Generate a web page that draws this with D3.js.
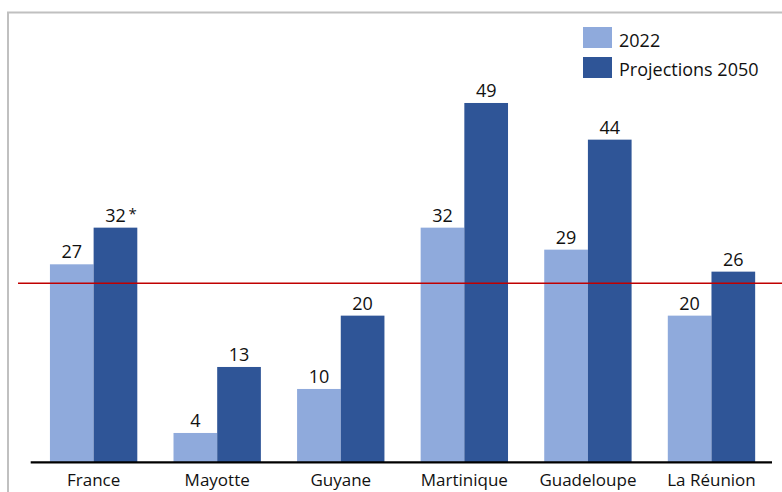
<!DOCTYPE html>
<html><head><meta charset="utf-8">
<script src="https://cdn.jsdelivr.net/npm/d3@7"></script>
<style>body{margin:0;background:#fff}svg{display:block;font-family:"Open Sans",sans-serif}</style>
</head><body><svg id="c" width="782" height="492"></svg>
<script>
const categories = ["France","Mayotte","Guyane","Martinique","Guadeloupe","La Réunion"];
const seriesNames = ["2022","Projections 2050"];
const values2022 = [27,4,10,32,29,20];
const values2050 = [32,13,20,49,44,26];
const notes2050 = ["*","","","","",""];
const referenceValue = 24.4;
const colors = ["#8faadc","#2f5597"];

const svg = d3.select("#c");
svg.append("rect").attr("x",8).attr("y",12.5).attr("width",800).attr("height",500)
  .attr("fill","none").attr("stroke","#c0c0c0").attr("stroke-width",2);

const x = d3.scaleBand().domain(categories).range([31.4,773.7]).paddingInner(0.293).paddingOuter(0.15);
const xs = d3.scaleBand().domain(seriesNames).range([0,x.bandwidth()]);
const y = d3.scaleLinear().domain([0,60]).range([462.3,462.3-60*7.333]);

const series = [values2022, values2050];
series.forEach((vals,si)=>{
  const g = svg.append("g");
  g.selectAll("rect").data(vals).join("rect")
    .attr("x",(d,i)=>x(categories[i])+xs(seriesNames[si]))
    .attr("width",xs.bandwidth())
    .attr("y",d=>y(d)).attr("height",d=>y(0)-y(d))
    .attr("fill",colors[si]);
  g.selectAll("text").data(vals).join("text")
    .attr("x",(d,i)=>x(categories[i])+xs(seriesNames[si])+xs.bandwidth()/2)
    .attr("y",d=>y(d)-6)
    .attr("text-anchor","middle").attr("font-size",18).attr("fill","#111")
    .text(d=>d);
  if(si===1){
    g.selectAll("text.note").data(vals).join("text").attr("class","note")
      .attr("x",(d,i)=>x(categories[i])+xs(seriesNames[si])+xs.bandwidth()/2+13)
      .attr("y",d=>y(d)-9)
      .attr("font-size",15).attr("fill","#111")
      .text((d,i)=>notes2050[i]);
  }
});

// reference line
svg.append("line").attr("x1",18).attr("x2",782)
  .attr("y1",y(referenceValue)).attr("y2",y(referenceValue))
  .attr("stroke","#c00000").attr("stroke-width",1.5);

// x axis
const ax = svg.append("g").attr("transform",`translate(0,${y(0)})`)
  .call(d3.axisBottom(x).tickSize(0).tickPadding(12));
ax.select(".domain").attr("stroke","#000").attr("stroke-width",2.2).attr("d","M30.7,0H772");
ax.selectAll("text").attr("font-size",17).attr("fill","#111").attr("font-family","Open Sans, sans-serif");

// legend
const leg = svg.append("g");
seriesNames.forEach((n,i)=>{
  leg.append("rect").attr("x",583).attr("y",27+i*30).attr("width",29).attr("height",21).attr("fill",colors[i]);
  leg.append("text").attr("x",619).attr("y",47+i*29).attr("font-size",18).attr("fill","#111").text(n);
});
</script></body></html>
